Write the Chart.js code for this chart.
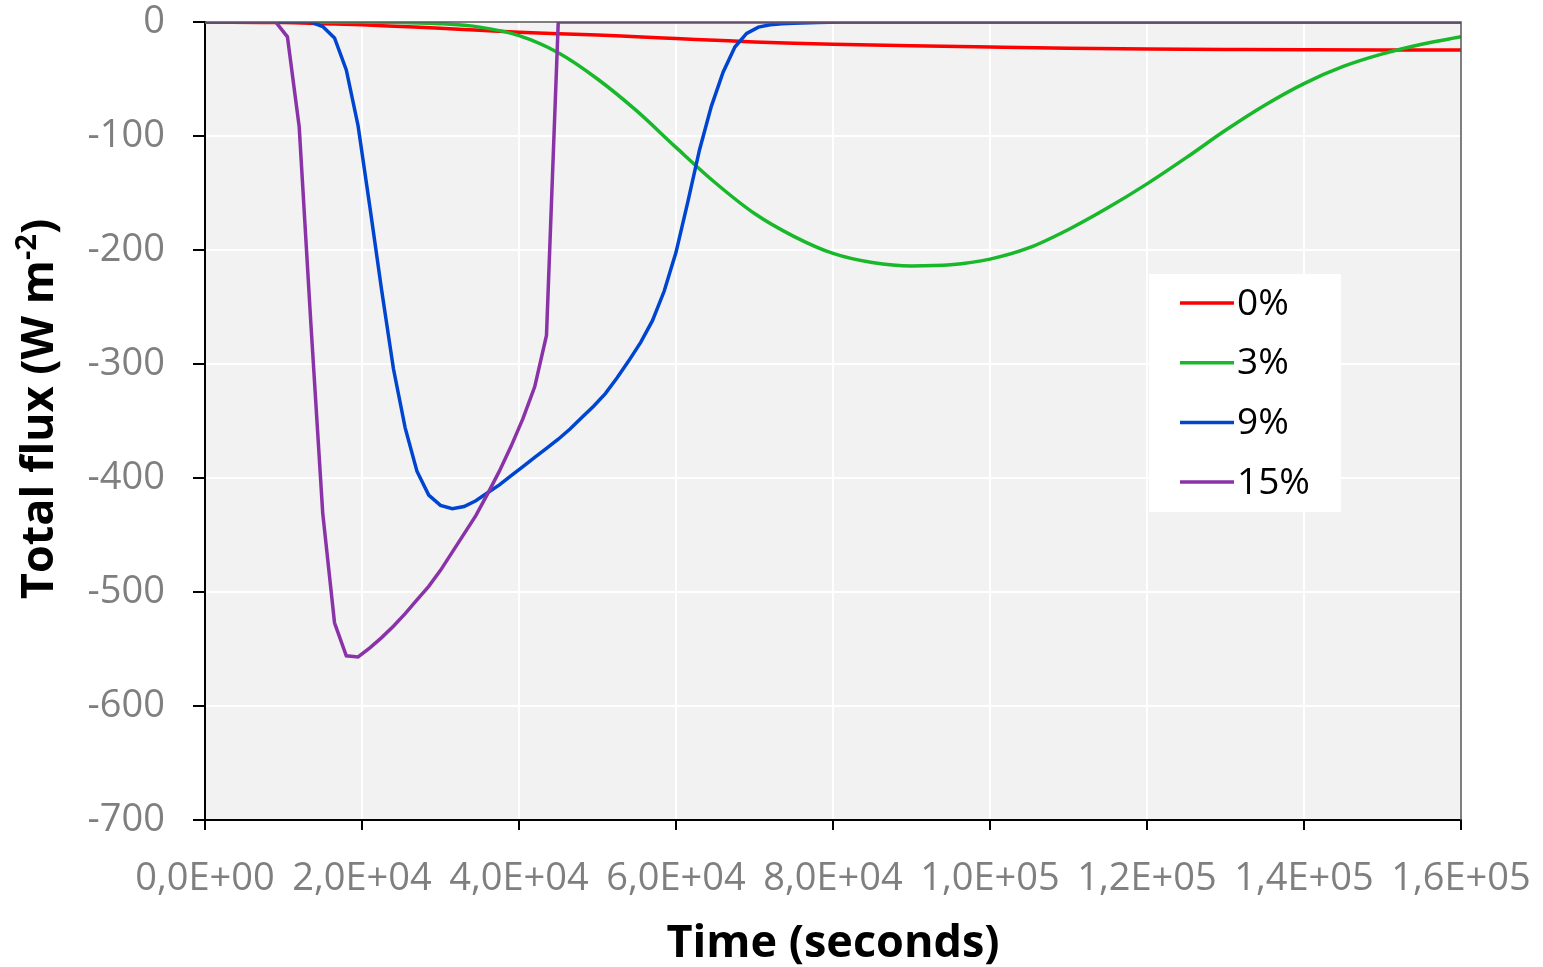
<!DOCTYPE html>
<html>
<head>
<meta charset="utf-8">
<script src="https://cdn.jsdelivr.net/npm/chart.js@4/dist/chart.umd.min.js"></script>
<style>
  html, body { margin: 0; padding: 0; background: #fff; }
  canvas { display: block; }
</style>
</head>
<body>
<canvas id="chart" width="1543" height="967"></canvas>
<script>
// --- datos (tiempo en s, flujo en W m-2) ---
const seriesNames = ['0%', '3%', '9%', '15%'];

const redTime = [0, 10000, 15000, 20000, 25000, 30000, 35000, 40000, 45000, 50000, 55000, 60000, 65000, 70000, 75000, 80000, 90000, 100000, 110000, 120000, 130000, 140000, 150000, 160000];
const redFlux = [0, -0.5, -1.5, -2.5, -4, -5.5, -7.3, -9, -10.3, -11.4, -13, -14.5, -16, -17.5, -18.6, -19.5, -20.9, -22, -23, -23.7, -24.1, -24.4, -24.5, -24.5];

const greenTime = [0, 20000, 25000, 30000, 35000, 40000, 45000, 50000, 55000, 60000, 65000, 70000, 75000, 80000, 85000, 90000, 95000, 100000, 105000, 110000, 115000, 120000, 125000, 130000, 135000, 140000, 145000, 150000, 155000, 160000];
const greenFlux = [0, 0, -0.5, -1.5, -4.5, -12, -27, -50, -78, -110, -141, -168, -188, -203, -211, -214, -213, -208, -198, -182, -163, -142, -119, -95, -73, -54, -39, -28, -19.5, -13];

const blueTime = [0, 13500, 15000, 16500, 18000, 19500, 21000, 22500, 24000, 25500, 27000, 28500, 30000, 31500, 33000, 34500, 36000, 37500, 39000, 40500, 42000, 43500, 45000, 46500, 48000, 49500, 51000, 52500, 54000, 55500, 57000, 58500, 60000, 61500, 63000, 64500, 66000, 67500, 69000, 70500, 72000, 73500, 75000, 78000, 81000, 160000];
const blueFlux = [0, 0, -4, -14, -42, -91, -162, -235, -304, -356, -394, -415, -424, -427, -425, -420, -413, -406, -398, -390, -382, -374, -366, -357, -347, -337, -326, -312, -297, -281, -262, -236, -202, -158, -112, -74, -44, -22, -10, -4.5, -2.5, -1.5, -1, -0.4, 0, 0];

const purpleTime = [0, 9000, 10500, 12000, 13500, 15000, 16500, 18000, 19500, 21000, 22500, 24000, 25500, 27000, 28500, 30000, 31500, 33000, 34500, 36000, 37500, 39000, 40500, 42000, 43500, 45000, 160000];
const purpleFlux = [0, 0, -13, -92, -266, -431, -527, -556, -557, -549, -540, -530, -519, -507, -495, -481, -465, -449, -433, -414, -394, -372, -348, -320, -275, 0, 0];

const xTicks = [0, 20000, 40000, 60000, 80000, 100000, 120000, 140000, 160000];
const yTicks = [0, -100, -200, -300, -400, -500, -600, -700];

const colores = ['#ff0000', '#18b82a', '#0045d0', '#8a33a8'];
const FONT = "'Open Sans', 'Liberation Sans', sans-serif";

function puntos(ts, vs) {
    return ts.map((t, i) => ({ x: t, y: vs[i] }));
}

// 2.0e+4 -> "2,0E+04"
function formatoSci(v) {
    const [m, e] = Number(v).toExponential(1).split('e');
    const sign = e[0] === '-' ? '-' : '+';
    const exp = e.replace(/[+-]/, '').padStart(2, '0');
    return m.replace('.', ',') + 'E' + sign + exp;
}

// fondo gris del área de trazado
const fondoPlugin = {
    id: 'fondo',
    beforeDraw(chart) {
        const { ctx, chartArea: a } = chart;
        ctx.save();
        ctx.fillStyle = '#f2f2f2';
        ctx.fillRect(a.left, a.top, a.right - a.left, a.bottom - a.top);
        ctx.restore();
    }
};

// títulos de ejes y leyenda dibujados a mano
const extrasPlugin = {
    id: 'extras',
    afterDraw(chart) {
        const { ctx, chartArea: a } = chart;
        ctx.save();

        // título eje X
        ctx.fillStyle = '#000';
        ctx.font = `bold 45px ${FONT}`;
        ctx.textAlign = 'center';
        ctx.textBaseline = 'alphabetic';
        ctx.fillText('Time (seconds)', (a.left + a.right) / 2, 957);

        // título eje Y con superíndice
        ctx.save();
        ctx.translate(53, 409);
        ctx.rotate(-Math.PI / 2);
        const parte1 = 'Total flux (W m';
        const sup = '-2';
        const parte2 = ')';
        ctx.font = `bold 45px ${FONT}`;
        const w1 = ctx.measureText(parte1).width;
        const w3 = ctx.measureText(parte2).width;
        ctx.font = `bold 29px ${FONT}`;
        const w2 = ctx.measureText(sup).width;
        let x = -(w1 + w2 + w3) / 2;
        ctx.textAlign = 'left';
        ctx.font = `bold 45px ${FONT}`;
        ctx.fillText(parte1, x, 0);
        x += w1;
        ctx.font = `bold 29px ${FONT}`;
        ctx.fillText(sup, x, -17);
        x += w2;
        ctx.font = `bold 45px ${FONT}`;
        ctx.fillText(parte2, x, 0);
        ctx.restore();

        // leyenda
        ctx.fillStyle = '#fff';
        ctx.fillRect(1149, 274, 192, 238);
        ctx.font = `37px ${FONT}`;
        ctx.textAlign = 'left';
        ctx.textBaseline = 'middle';
        chart.data.datasets.forEach((ds, i) => {
            const y = 303 + i * 59.7;
            ctx.strokeStyle = ds.borderColor;
            ctx.lineWidth = 3.5;
            ctx.beginPath();
            ctx.moveTo(1180, y);
            ctx.lineTo(1234, y);
            ctx.stroke();
            ctx.fillStyle = '#000';
            ctx.fillText(ds.label, 1237, y + 1);
        });

        // borde superior y derecho
        ctx.strokeStyle = '#555';
        ctx.lineWidth = 1.5;
        ctx.beginPath();
        ctx.moveTo(a.left, a.top);
        ctx.lineTo(a.right, a.top);
        ctx.lineTo(a.right, a.bottom);
        ctx.stroke();

        ctx.restore();
    }
};

const datos = [
    [redTime, redFlux],
    [greenTime, greenFlux],
    [blueTime, blueFlux],
    [purpleTime, purpleFlux]
];

new Chart(document.getElementById('chart'), {
    type: 'line',
    data: {
        datasets: datos.map(([ts, vs], i) => ({
            label: seriesNames[i],
            data: puntos(ts, vs),
            borderColor: colores[i],
            backgroundColor: colores[i],
            borderWidth: 3.5,
            pointRadius: 0,
            fill: false,
            tension: 0,
            cubicInterpolationMode: i < 2 ? 'monotone' : 'default',
            order: 4 - i
        }))
    },
    options: {
        responsive: false,
        animation: false,
        layout: { padding: { top: 22, right: 82, left: 0, bottom: 0 } },
        plugins: {
            legend: { display: false },
            tooltip: { enabled: false }
        },
        scales: {
            x: {
                type: 'linear',
                min: 0,
                max: 160000,
                afterBuildTicks: (s) => { s.ticks = xTicks.map(v => ({ value: v })); },
                afterFit: (s) => { s.height = 147; s.paddingLeft = 0; s.paddingRight = 0; },
                ticks: {
                    callback: (v) => formatoSci(v),
                    color: '#7f7f7f',
                    font: { family: FONT, size: 38 },
                    padding: 26,
                    maxRotation: 0,
                    autoSkip: false
                },
                grid: { color: '#ffffff', lineWidth: 2, tickColor: '#000', tickLength: 10 },
                border: { color: '#000', width: 2 }
            },
            y: {
                min: -700,
                max: 0,
                afterBuildTicks: (s) => { s.ticks = yTicks.slice().reverse().map(v => ({ value: v })); },
                afterFit: (s) => { s.width = 205; s.paddingTop = 0; s.paddingBottom = 0; },
                ticks: {
                    callback: (v) => String(v),
                    color: '#7f7f7f',
                    font: { family: FONT, size: 38 },
                    padding: 28,
                    autoSkip: false
                },
                grid: { color: '#ffffff', lineWidth: 2, tickColor: '#000', tickLength: 12 },
                border: { color: '#000', width: 2 }
            }
        }
    },
    plugins: [fondoPlugin, extrasPlugin]
});
</script>
</body>
</html>
